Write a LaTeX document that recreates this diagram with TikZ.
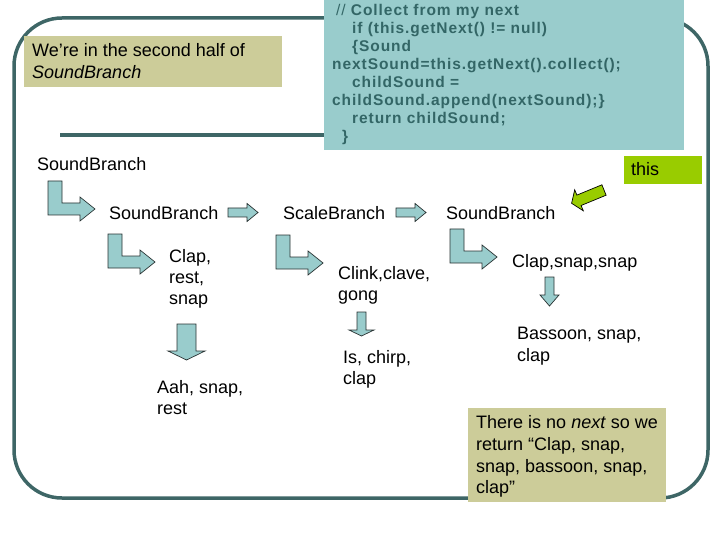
\documentclass[tikz,border=0pt]{standalone}
\usepackage{fontspec}
\setmainfont{Liberation Sans}
\newfontfamily\codefont{Liberation Sans}[LetterSpace=6]
\definecolor{frameC}{RGB}{62,102,102}
\definecolor{tealC}{RGB}{153,204,204}
\definecolor{codeC}{RGB}{51,102,102}
\definecolor{tanC}{RGB}{204,204,153}
\definecolor{greenC}{RGB}{153,204,0}
\definecolor{outlineC}{RGB}{40,50,50}
\begin{document}
\begin{tikzpicture}[x=1pt,y=-1pt,
  frameline/.style={draw=frameC,line width=3.5pt},
  lbl/.style={anchor=base west,inner sep=0pt,text=black,font=\fontsize{18}{21}\selectfont},
  codeline/.style={anchor=base west,inner sep=0pt,text=codeC,font=\codefont\bfseries\fontsize{15.5}{18}\selectfont},
  boxfill/.style={anchor=north west,inner sep=0pt,draw=none},
  blockarrow/.style={fill=tealC,draw=outlineC,line width=0.7pt,line join=miter},
  pics/larrow/.style={code={
    \path[blockarrow] (0,0) -- (14,0) -- (14,22) -- (32,22) -- (32,16) -- (47,28)
      -- (32,40) -- (32,34) -- (0,34) -- cycle;}},
  pics/rarrow/.style={code={
    \path[blockarrow] (0,-4.5) -- (19,-4.5) -- (19,-9) -- (30,0) -- (19,9)
      -- (19,4.5) -- (0,4.5) -- cycle;}}
]
\useasboundingbox (0,0) rectangle (720,540);

% frame
\draw[frameline,rounded corners=48pt] (14,18) rectangle (708,498);
\draw[frameline] (60,135) -- (330,135);

% boxes
\node[boxfill,fill=tanC,minimum width=258,minimum height=51] (note) at (24,36) {};
\node[boxfill,fill=tealC,minimum width=360,minimum height=150] (code) at (324,0) {};
\node[boxfill,fill=greenC,minimum width=78,minimum height=28] (thisbox) at (624,156) {};
\node[boxfill,fill=tanC,minimum width=198,minimum height=94] (ret) at (468,408) {};

% code text
\node[codeline] (c1) at (336,16) {{\mdseries //} Collect from my next};
\node[codeline] (c2) at (352,34) {if (this.getNext() != null)};
\node[codeline] (c3) at (352,52) {\{Sound};
\node[codeline] (c4) at (332,70) {nextSound=this.getNext().collect();};
\node[codeline] (c5) at (352,88) {childSound =};
\node[codeline] (c6) at (332,106) {childSound.append(nextSound);\}};
\node[codeline] (c7) at (352,124) {return childSound;};
\node[codeline] (c8) at (342,142) {\}};

% note text
\node[lbl] (n1) at (32,57) {We’re in the second half of};
\node[lbl] (n2) at (32,79) {\itshape SoundBranch};

% tree labels
\node[lbl] (sb0) at (37,171) {SoundBranch};
\node[lbl] (sb1) at (109,219) {SoundBranch};
\node[lbl] (scb) at (283,219) {ScaleBranch};
\node[lbl] (sb2) at (446,219) {SoundBranch};
\node[lbl] (crs1) at (169,262) {Clap,};
\node[lbl] (crs2) at (169,283) {rest,};
\node[lbl] (crs3) at (169,304) {snap};
\node[lbl] (asr1) at (157,393) {Aah, snap,};
\node[lbl] (asr2) at (157,414) {rest};
\node[lbl] (ccg1) at (338,279) {Clink,clave,};
\node[lbl] (ccg2) at (338,300) {gong};
\node[lbl] (icc1) at (343,363) {Is, chirp,};
\node[lbl] (icc2) at (343,384) {clap};
\node[lbl] (css) at (512,267) {Clap,snap,snap};
\node[lbl] (bsc1) at (517,339) {Bassoon, snap,};
\node[lbl] (bsc2) at (517,361) {clap};
\node[lbl] (thistxt) at (631,176) {this};
\node[lbl] (r1) at (476,428) {There is no \textit{next} so we};
\node[lbl] (r2) at (476,450) {return “Clap, snap,};
\node[lbl] (r3) at (476,472) {snap, bassoon, snap,};
\node[lbl] (r4) at (476,493) {clap”};

% block arrows
\pic (la1) at (48,181) {larrow};
\pic (la2) at (108,234) {larrow};
\pic (la3) at (276,235) {larrow};
\pic (la4) at (450,229) {larrow};
\pic (ra1) at (228,212.5) {rarrow};
\pic (ra2) at (396,212.5) {rarrow};
\path[blockarrow] (177,324) -- (196,324) -- (196,351) -- (205,351) -- (186.5,360)
  -- (168,351) -- (177,351) -- cycle;
\path[blockarrow] (357,312) -- (366,312) -- (366,330) -- (374,330) -- (361.5,336)
  -- (349,330) -- (357,330) -- cycle;
\path[blockarrow] (545,277) -- (554,277) -- (554,295) -- (559,295) -- (549.5,306)
  -- (540,295) -- (545,295) -- cycle;
% green pointer
\path[fill=greenC,draw=black,line width=0.7pt,line join=miter]
  (601.9,184.8) -- (576.9,195.1) -- (574.7,189.8) -- (571.6,203.3)
  -- (583.3,210.8) -- (581.1,205.5) -- (606.1,195.2) -- cycle;
\end{tikzpicture}
\end{document}
